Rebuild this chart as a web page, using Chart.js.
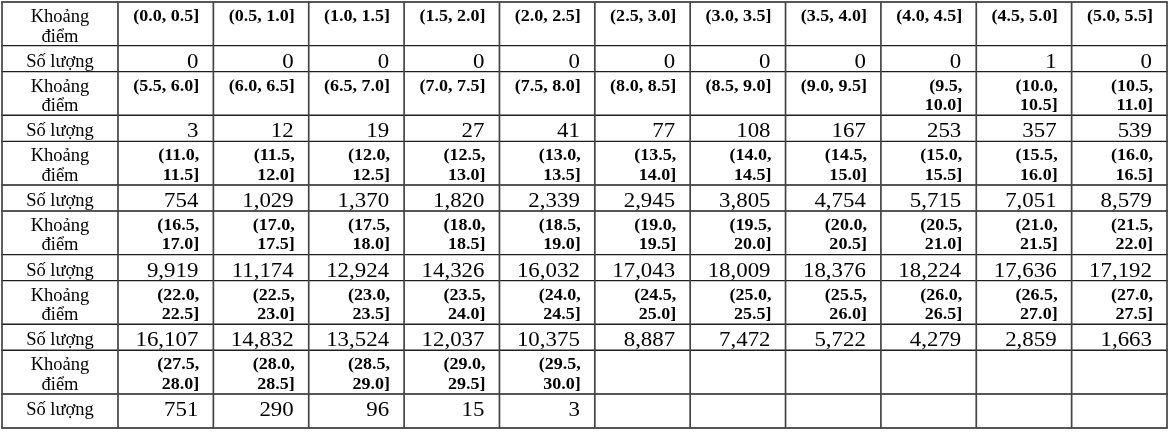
<!DOCTYPE html>
<html>
<head>
<meta charset="utf-8">
<script src="https://cdn.jsdelivr.net/npm/chart.js@4.4.1/dist/chart.umd.min.js"></script>
<style>
  html, body { margin: 0; padding: 0; background: #ffffff; }
  #wrap { width: 1170px; height: 435px; }
</style>
</head>
<body>
<div id="wrap"><canvas id="c" width="1170" height="435"></canvas></div>
<script>
// ---------- DATA ----------
const rowLabelRange = "Khoảng điểm";
const rowLabelCount = "Số lượng";

const binLabels = [
  "(0.0, 0.5]", "(0.5, 1.0]", "(1.0, 1.5]", "(1.5, 2.0]", "(2.0, 2.5]", "(2.5, 3.0]",
  "(3.0, 3.5]", "(3.5, 4.0]", "(4.0, 4.5]", "(4.5, 5.0]", "(5.0, 5.5]",
  "(5.5, 6.0]", "(6.0, 6.5]", "(6.5, 7.0]", "(7.0, 7.5]", "(7.5, 8.0]", "(8.0, 8.5]",
  "(8.5, 9.0]", "(9.0, 9.5]", "(9.5, 10.0]", "(10.0, 10.5]", "(10.5, 11.0]",
  "(11.0, 11.5]", "(11.5, 12.0]", "(12.0, 12.5]", "(12.5, 13.0]", "(13.0, 13.5]", "(13.5, 14.0]",
  "(14.0, 14.5]", "(14.5, 15.0]", "(15.0, 15.5]", "(15.5, 16.0]", "(16.0, 16.5]",
  "(16.5, 17.0]", "(17.0, 17.5]", "(17.5, 18.0]", "(18.0, 18.5]", "(18.5, 19.0]", "(19.0, 19.5]",
  "(19.5, 20.0]", "(20.0, 20.5]", "(20.5, 21.0]", "(21.0, 21.5]", "(21.5, 22.0]",
  "(22.0, 22.5]", "(22.5, 23.0]", "(23.0, 23.5]", "(23.5, 24.0]", "(24.0, 24.5]", "(24.5, 25.0]",
  "(25.0, 25.5]", "(25.5, 26.0]", "(26.0, 26.5]", "(26.5, 27.0]", "(27.0, 27.5]",
  "(27.5, 28.0]", "(28.0, 28.5]", "(28.5, 29.0]", "(29.0, 29.5]", "(29.5, 30.0]"
];

const counts = [
  0, 0, 0, 0, 0, 0, 0, 0, 0, 1, 0,
  3, 12, 19, 27, 41, 77, 108, 167, 253, 357, 539,
  754, 1029, 1370, 1820, 2339, 2945, 3805, 4754, 5715, 7051, 8579,
  9919, 11174, 12924, 14326, 16032, 17043, 18009, 18376, 18224, 17636, 17192,
  16107, 14832, 13524, 12037, 10375, 8887, 7472, 5722, 4279, 2859, 1663,
  751, 290, 96, 15, 3
];

// ---------- LAYOUT / STYLE ----------
const COLS = 11;                 // data columns per block
const BLOCKS = 6;                // pairs of rows
const LABEL_COL_RATIO = 1.2164;  // width of label column relative to a data column
const HEADER_ROW_RATIO = 1.677;  // header row height relative to count row
const LAST_ROW_RATIO = 1.308;    // last count row height relative to count row

const FONT_FAMILY = '"Liberation Serif", "Times New Roman", serif';
const HEADER_FONT = 'bold 17px ' + FONT_FAMILY;
const HEADER_SCALE = 1.06;
const NUMBER_FONT = '22px ' + FONT_FAMILY;
const NUMBER_SCALE = 1.04;
const LABEL_FONT = '18.5px ' + FONT_FAMILY;
const PAD_RIGHT_HEAD = 14;
const PAD_RIGHT_NUM = 15;

// build row unit boundaries (top -> bottom), in y-scale units
const rowKinds = [];
for (let b = 0; b < BLOCKS; b++) { rowKinds.push('head'); rowKinds.push('count'); }
const rowEdges = [0];
rowKinds.forEach((k, i) => {
  const h = k === 'head' ? HEADER_ROW_RATIO : (i === rowKinds.length - 1 ? LAST_ROW_RATIO : 1);
  rowEdges.push(rowEdges[rowEdges.length - 1] + h);
});
const totalRowUnits = rowEdges[rowEdges.length - 1];

function drawScaled(ctx, text, x, y, align, sx) {
  ctx.save();
  ctx.translate(x, y);
  ctx.scale(sx, 1);
  ctx.textAlign = align;
  ctx.fillText(text, 0, 0);
  ctx.restore();
}

function wrapText(ctx, text, maxW, sx) {
  if (ctx.measureText(text).width * sx <= maxW) return [text];
  const i = text.lastIndexOf(' ');
  if (i < 0) return [text];
  return [text.slice(0, i), text.slice(i + 1)];
}

const tablePlugin = {
  id: 'tablePlugin',
  afterDraw(chart) {
    const ctx = chart.ctx;
    const xs = chart.scales.x, ys = chart.scales.y;
    const X = v => xs.getPixelForValue(v);
    const Y = v => ys.getPixelForValue(v);
    const left = X(-LABEL_COL_RATIO), right = X(COLS);
    const top = Y(0), bottom = Y(totalRowUnits);

    ctx.save();
    ctx.fillStyle = '#ffffff';
    ctx.fillRect(0, 0, chart.width, chart.height);

    // horizontal lines
    ctx.strokeStyle = '#1e1e1e';
    ctx.lineWidth = 1.4;
    rowEdges.forEach(e => {
      const y = Y(e);
      ctx.beginPath(); ctx.moveTo(left - 0.8, y); ctx.lineTo(right + 0.8, y); ctx.stroke();
    });
    // vertical lines
    ctx.strokeStyle = '#444444';
    ctx.lineWidth = 1.7;
    const colEdges = [-LABEL_COL_RATIO];
    for (let c = 0; c <= COLS; c++) colEdges.push(c);
    colEdges.forEach(e => {
      const x = X(e);
      ctx.beginPath(); ctx.moveTo(x, top); ctx.lineTo(x, bottom); ctx.stroke();
    });

    ctx.fillStyle = '#000000';
    ctx.textBaseline = 'alphabetic';

    for (let r = 0; r < rowKinds.length; r++) {
      const rt = Y(rowEdges[r]);
      const block = Math.floor(r / 2);
      const labelCx = (X(-LABEL_COL_RATIO) + X(0)) / 2;
      if (rowKinds[r] === 'head') {
        ctx.font = LABEL_FONT;
        const lines = wrapText(ctx, rowLabelRange, X(0) - X(-LABEL_COL_RATIO) - 28, 1);
        lines.forEach((ln, li) => drawScaled(ctx, ln, labelCx, rt + 20 + li * 19.5, 'center', 1));
        ctx.font = HEADER_FONT;
        for (let c = 0; c < COLS; c++) {
          const idx = block * COLS + c;
          if (idx >= binLabels.length) continue;
          const cellW = X(c + 1) - X(c);
          const lines2 = wrapText(ctx, binLabels[idx], cellW - 25, HEADER_SCALE);
          lines2.forEach((ln, li) => drawScaled(ctx, ln, X(c + 1) - PAD_RIGHT_HEAD, rt + 19 + li * 19.5, 'right', HEADER_SCALE));
        }
      } else {
        ctx.font = LABEL_FONT;
        drawScaled(ctx, rowLabelCount, labelCx, rt + 21, 'center', 1);
        ctx.font = NUMBER_FONT;
        for (let c = 0; c < COLS; c++) {
          const idx = block * COLS + c;
          if (idx >= counts.length) continue;
          drawScaled(ctx, counts[idx].toLocaleString('en-US'), X(c + 1) - PAD_RIGHT_NUM, rt + 22, 'right', NUMBER_SCALE);
        }
      }
    }
    ctx.restore();
  }
};

new Chart(document.getElementById('c'), {
  type: 'scatter',
  data: { datasets: [{ data: [] }] },
  options: {
    responsive: false,
    animation: false,
    devicePixelRatio: 1,
    layout: { padding: { left: 2, top: 2, right: 3, bottom: 7 } },
    plugins: { legend: { display: false }, tooltip: { enabled: false } },
    scales: {
      x: { type: 'linear', display: false, min: -LABEL_COL_RATIO, max: COLS },
      y: { type: 'linear', display: false, min: 0, max: totalRowUnits, reverse: true }
    }
  },
  plugins: [tablePlugin]
});
</script>
</body>
</html>
